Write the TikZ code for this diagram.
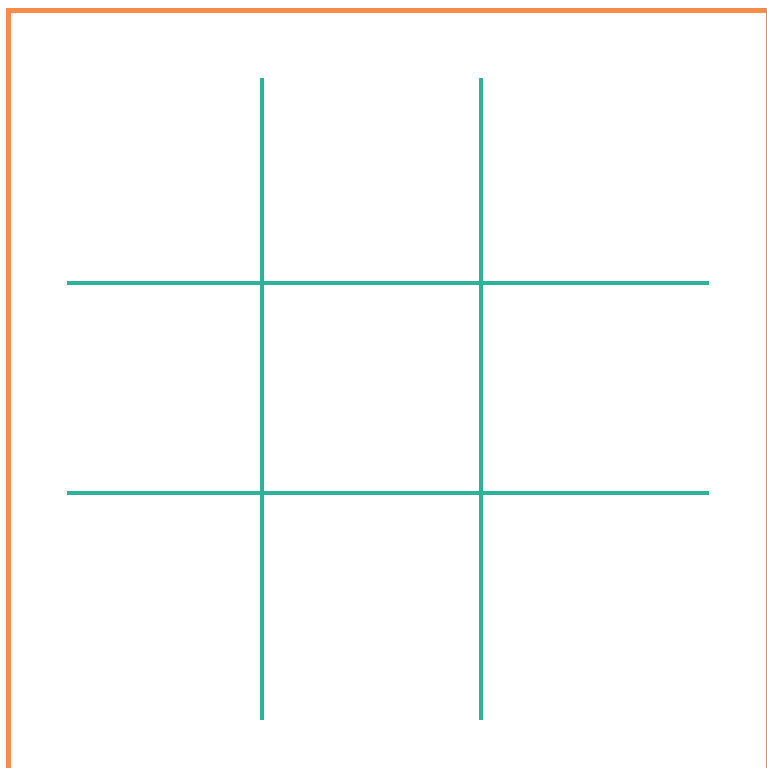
\documentclass[tikz,border=0pt]{standalone}
\usepackage{tikz}
\definecolor{frameorange}{RGB}{248,140,72}
\definecolor{gridteal}{RGB}{46,178,154}
\tikzset{
  frameline/.style={draw=frameorange, line width=5pt},
  gridline/.style={draw=gridteal, line width=4.5pt}
}

\begin{document}
\begin{tikzpicture}[x=1pt, y=-1pt]
  % canvas (pixel units, y downwards)
  \clip (0,0) rectangle (767,768);

  % outer frame, partly cut by the canvas edge
  \draw[frameline] (8.5,10.5) rectangle (768.5,770);

  % vertical grid lines
  \foreach \x in {262,481}{
    \draw[gridline] (\x,78) -- (\x,720);
  }

  % horizontal grid lines
  \foreach \y in {283,493}{
    \draw[gridline] (67,\y) -- (709,\y);
  }
\end{tikzpicture}
\end{document}
